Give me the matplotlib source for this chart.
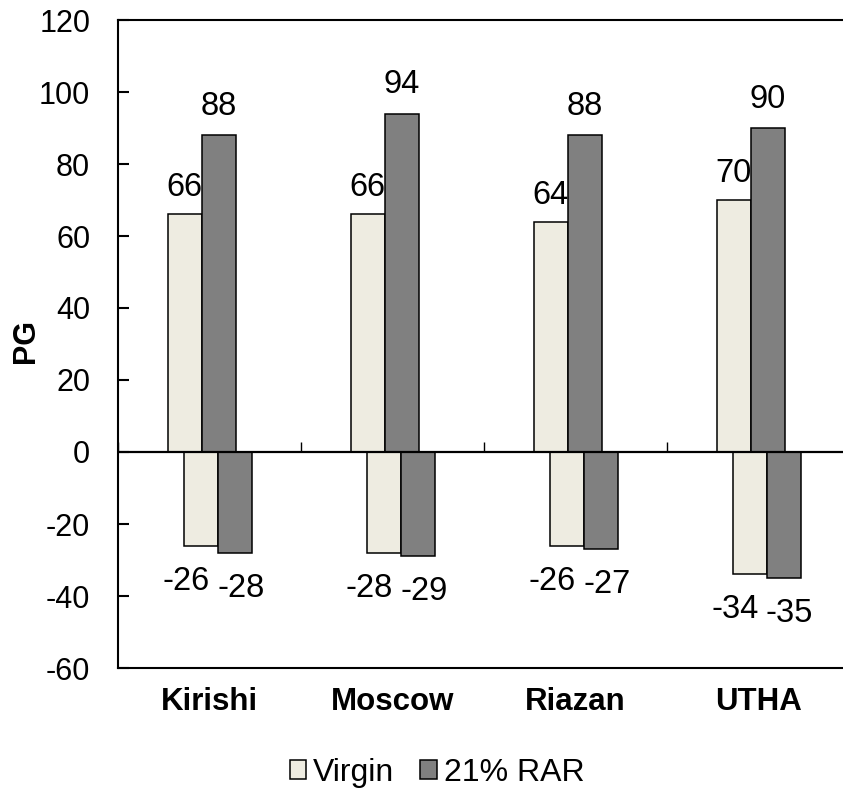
import matplotlib
matplotlib.use("Agg")
import matplotlib.pyplot as plt
import numpy as np
from matplotlib.patches import Patch

plt.rcParams['font.family'] = ['Liberation Sans', 'DejaVu Sans']

categories = ["Kirishi", "Moscow", "Riazan", "UTHA"]
virgin_pos = [66, 66, 64, 70]
rar_pos = [88, 94, 88, 90]
virgin_neg = [-26, -28, -26, -34]
rar_neg = [-28, -29, -27, -35]
series_names = ["Virgin", "21% RAR"]
yticks = list(range(-60, 121, 20))

c_virgin = "#EEECE1"
c_rar = "#808080"

fig = plt.figure(figsize=(8.43, 7.97), dpi=100)
ax = fig.add_axes([118/843, 1 - 668/797, 1 - 118/843, (668 - 20)/797])

x = np.arange(len(categories))
w = 0.186
off = {"vp": -0.1355, "rp": 0.0503, "vn": -0.0459, "rn": 0.1399}
ekw = dict(edgecolor="black", linewidth=1.1, zorder=3)

b1 = ax.bar(x + off["vp"], virgin_pos, w, color=c_virgin, **ekw)
b2 = ax.bar(x + off["rp"], rar_pos, w, color=c_rar, **ekw)
b3 = ax.bar(x + off["vn"], virgin_neg, w, color=c_virgin, **ekw)
b4 = ax.bar(x + off["rn"], rar_neg, w, color=c_rar, **ekw)

lfs = 23.5
for bars, vals, dx, dy in [(b1, virgin_pos, 0, 13), (b2, rar_pos, 0, 14.5),
                           (b3, virgin_neg, -10.8, -31.7), (b4, rar_neg, 4, -31.7)]:
    for b, v in zip(bars, vals):
        ax.annotate(f"{v}", (b.get_x() + b.get_width()/2, v), xytext=(dx, dy),
                    textcoords="offset points", ha="center", va="baseline",
                    fontsize=lfs, color="black")

ax.set_ylim(-60, 120)
ax.set_xlim(-0.5, -0.5 + 725/183)
ax.set_yticks(yticks)
ax.set_yticklabels([str(t) for t in yticks])
ax.tick_params(axis="y", direction="in", length=8, width=1.5, pad=20, labelsize=22)
ax.set_xticks(x)
ax.set_xticklabels(categories, fontweight="bold", fontsize=22.5)
ax.tick_params(axis="x", length=0, pad=14)

for s in ["left", "top", "bottom"]:
    ax.spines[s].set_linewidth(1.5)
ax.spines["right"].set_visible(False)

# category axis at zero
ax.axhline(0, color="black", linewidth=1.6, zorder=4)
sec = ax.secondary_xaxis(0, transform=ax.transData)
sec.set_xticks(np.arange(len(categories) + 1) - 0.5)
sec.tick_params(axis="x", direction="in", length=7, width=1.0, labelbottom=False)
sec.spines["bottom"].set_visible(False)

ax.set_ylabel("PG", fontweight="bold", fontsize=22)
ax.yaxis.set_label_coords(-77/725, 0.505)

handles = [Patch(facecolor=c_virgin, edgecolor="black", linewidth=1.1),
           Patch(facecolor=c_rar, edgecolor="black", linewidth=1.1)]
fig.legend(handles, series_names, loc="center", bbox_to_anchor=(437/843, 1 - 773/797),
           ncol=2, frameon=False, fontsize=23, handlelength=0.52, handleheight=0.52,
           handletextpad=0.22, columnspacing=0.8, borderpad=0)

fig.savefig("out.png", dpi=100)
